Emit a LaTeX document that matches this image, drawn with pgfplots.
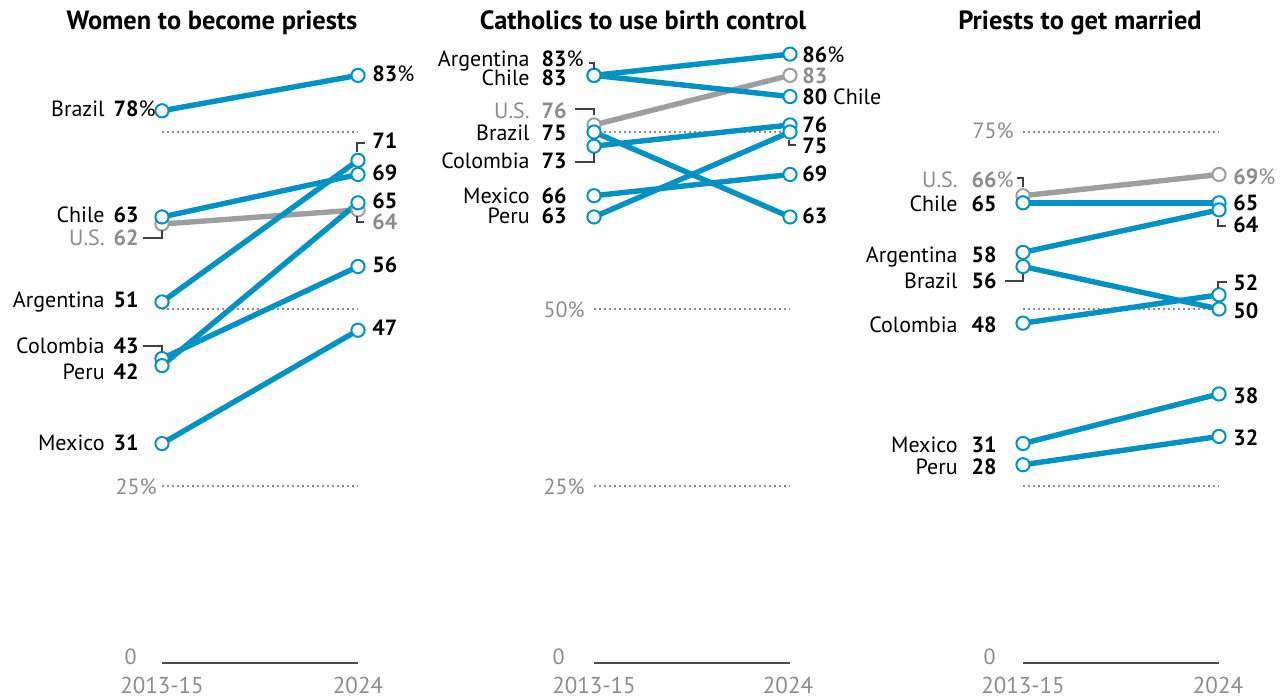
\documentclass[border=0pt]{standalone}
\usepackage{fontspec}
\setmainfont{PT Sans}
\usepackage{pgfplots}
\pgfplotsset{compat=1.18}
\definecolor{pblue}{RGB}{0,146,196}
\definecolor{pgray}{RGB}{158,158,160}
\definecolor{tgray}{RGB}{140,140,142}
\pgfplotsset{
 slope/.style={hide axis, clip=false, scale only axis, width=98pt, height=318.6pt,
   xmin=0,xmax=1,ymin=0,ymax=90, anchor=south west},
 ser/.style={color=#1, line width=2.7pt, mark=*, mark size=3.3pt,
   mark options={fill=white, draw=#1, line width=1pt, solid}},
 gridl/.style={tgray, line width=0.75pt, dash pattern=on 0.75pt off 1.75pt, forget plot},
 baseln/.style={black!70, line width=0.9pt, forget plot}
}
\tikzset{
 lab/.style={font=\fontsize{11pt}{12pt}\selectfont, inner sep=0pt},
 nm/.style={lab, anchor=base east},
 nr/.style={lab, anchor=base east, font=\fontsize{11pt}{12pt}\selectfont\bfseries},
 rt/.style={lab, anchor=base west},
 gl/.style={lab, anchor=base east, text=tgray},
 xl/.style={font=\fontsize{11.5pt}{12pt}\selectfont, inner sep=0pt, anchor=base, text=tgray},
 ttl/.style={font=\fontsize{13.2pt}{15pt}\selectfont\bfseries, inner sep=0pt, anchor=base},
 con/.style={black!75, line width=0.55pt}
}
\newcommand{\B}[1]{\textbf{#1}}
\begin{document}
\begin{tikzpicture}[x=0.5pt, y=0.5pt]
% ---------- Panel 1 ----------
\begin{axis}[slope, at={(81pt,18.5pt)}]
\addplot[gridl] coordinates {(0,25)(1,25)};
\addplot[gridl] coordinates {(0,50)(1,50)};
\addplot[gridl] coordinates {(0,75)(1,75)};
\addplot[baseln] coordinates {(0,0)(1,0)};
\addplot[ser=pgray] coordinates {(0,62)(1,64)};
\addplot[ser=pblue] coordinates {(0,78)(1,83)};
\addplot[ser=pblue] coordinates {(0,63)(1,69)};
\addplot[ser=pblue] coordinates {(0,51)(1,71)};
\addplot[ser=pblue] coordinates {(0,43)(1,56)};
\addplot[ser=pblue] coordinates {(0,42)(1,65)};
\addplot[ser=pblue] coordinates {(0,31)(1,47)};
\end{axis}
% ---------- Panel 2 ----------
\begin{axis}[slope, at={(297pt,18.5pt)}]
\addplot[gridl] coordinates {(0,25)(1,25)};
\addplot[gridl] coordinates {(0,50)(1,50)};
\addplot[gridl] coordinates {(0,75)(1,75)};
\addplot[baseln] coordinates {(0,0)(1,0)};
\addplot[ser=pgray] coordinates {(0,76)(1,83)};
\addplot[ser=pblue] coordinates {(0,83)(1,86)};
\addplot[ser=pblue] coordinates {(0,83)(1,80)};
\addplot[ser=pblue] coordinates {(0,75)(1,63)};
\addplot[ser=pblue] coordinates {(0,73)(1,76)};
\addplot[ser=pblue] coordinates {(0,66)(1,69)};
\addplot[ser=pblue] coordinates {(0,63)(1,75)};
\end{axis}
% ---------- Panel 3 ----------
\begin{axis}[slope, at={(511.5pt,18.5pt)}]
\addplot[gridl] coordinates {(0,25)(1,25)};
\addplot[gridl] coordinates {(0,50)(1,50)};
\addplot[gridl] coordinates {(0,75)(1,75)};
\addplot[baseln] coordinates {(0,0)(1,0)};
\addplot[ser=pgray] coordinates {(0,66)(1,69)};
\addplot[ser=pblue] coordinates {(0,65)(1,65)};
\addplot[ser=pblue] coordinates {(0,58)(1,64)};
\addplot[ser=pblue] coordinates {(0,56)(1,50)};
\addplot[ser=pblue] coordinates {(0,48)(1,52)};
\addplot[ser=pblue] coordinates {(0,31)(1,38)};
\addplot[ser=pblue] coordinates {(0,28)(1,32)};
\end{axis}
\begin{scope}[shift={(0pt,350pt)}, x=0.5pt, y=-0.5pt]
% ---------- Titles ----------
\node[ttl] at (212,30) {Women to become priests};
\node[ttl] at (643,30) {Catholics to use birth control};
\node[ttl] at (1080,30) {Priests to get married};
% ---------- x labels ----------
\foreach \a/\b in {162/358, 594/788, 1023/1218}{
  \node[xl] at (\a,694) {2013-15};
  \node[xl] at (\b,694) {2024};
}
% ---------- grid labels ----------
\node[gl] at (157,494.6) {25\%};
\node[gl] at (137,664.6) {0};
\node[gl] at (585,317.6) {50\%};
\node[gl] at (585,494.6) {25\%};
\node[gl] at (565,664.6) {0};
\node[gl] at (1014,138.6) {75\%};
\node[gl] at (996,664.6) {0};
% ---------- Panel 1 labels ----------
\node[nm] at (105,116.6) {Brazil};   \node[nr] at (139,116.6) {78\rlap{\mdseries\%}};
\node[nm] at (105,222.6) {Chile};    \node[nr] at (139,222.6) {63};
\node[nm,text=tgray] at (105,245.6) {U.S.}; \node[nr,text=tgray] at (139,245.6) {62};
\node[nm] at (105,307.6) {Argentina};\node[nr] at (139,307.6) {51};
\node[nm] at (105,353.6) {Colombia}; \node[nr] at (139,353.6) {43};
\node[nm] at (105,379.6) {Peru};     \node[nr] at (139,379.6) {42};
\node[nm] at (105,450.6) {Mexico};   \node[nr] at (139,450.6) {31};
\draw[con] (143,238)--(162,238)--(162,230);
\draw[con] (143,346)--(162,346)--(162,351);
\node[rt] at (372,81.6) {\B{83}\%};
\node[rt] at (372,148.6) {\B{71}};
\node[rt] at (372,180.6) {\B{69}};
\node[rt] at (372,208.6) {\B{65}};
\node[rt,text=tgray] at (372,229.6) {\B{64}};
\node[rt] at (372,272.6) {\B{56}};
\node[rt] at (372,335.6) {\B{47}};
\draw[con] (357,152)--(357,143)--(365,143);
\draw[con] (357,216)--(357,222)--(364,222);
% ---------- Panel 2 labels ----------
\node[nm] at (530,66.6) {Argentina}; \node[nr] at (567,66.6) {83\rlap{\mdseries\%}};
\node[nm] at (530,85.6) {Chile};     \node[nr] at (567,85.6) {83};
\node[nm,text=tgray] at (530,118.6) {U.S.}; \node[nr,text=tgray] at (567,118.6) {76};
\node[nm] at (530,140.6) {Brazil};   \node[nr] at (567,140.6) {75};
\node[nm] at (530,168.6) {Colombia}; \node[nr] at (567,168.6) {73};
\node[nm] at (530,203.6) {Mexico};   \node[nr] at (567,203.6) {66};
\node[nm] at (530,223.6) {Peru};     \node[nr] at (567,223.6) {63};
\draw[con] (589,63)--(594,63)--(594,69);
\draw[con] (575,109)--(594,109)--(594,115);
\draw[con] (575,162)--(594,162)--(594,153);
\node[rt] at (802,62.6) {\B{86}\%};
\node[rt,text=tgray] at (802,83.6) {\B{83}};
\node[rt] at (802,104.6) {\B{80} Chile};
\node[rt] at (802,132.6) {\B{76}};
\node[rt] at (802,153.6) {\B{75}};
\node[rt] at (802,181.6) {\B{69}};
\node[rt] at (802,223.6) {\B{63}};
\draw[con] (789,140)--(789,145)--(796,145);
% ---------- Panel 3 labels ----------
\node[nm,text=tgray] at (958,187.6) {U.S.}; \node[nr,text=tgray] at (997,187.6) {66\rlap{\mdseries\%}};
\node[nm] at (958,211.6) {Chile};     \node[nr] at (997,211.6) {65};
\node[nm] at (958,262.6) {Argentina}; \node[nr] at (997,262.6) {58};
\node[nm] at (958,288.6) {Brazil};    \node[nr] at (997,288.6) {56};
\node[nm] at (958,332.6) {Colombia};  \node[nr] at (997,332.6) {48};
\node[nm] at (958,452.6) {Mexico};    \node[nr] at (997,452.6) {31};
\node[nm] at (958,474.6) {Peru};      \node[nr] at (997,474.6) {28};
\draw[con] (1017,178)--(1023,178)--(1023,187);
\draw[con] (1005,281)--(1023,281)--(1023,274);
\node[rt,text=tgray] at (1233,184.6) {\B{69}\%};
\node[rt] at (1233,210.6) {\B{65}};
\node[rt] at (1233,232.6) {\B{64}};
\node[rt] at (1233,290.6) {\B{52}};
\node[rt] at (1233,318.6) {\B{50}};
\node[rt] at (1233,403.6) {\B{38}};
\node[rt] at (1233,445.6) {\B{32}};
\draw[con] (1218,219)--(1218,226)--(1226,226);
\draw[con] (1218,288)--(1218,282)--(1227,282);
\end{scope}
\pgfresetboundingbox
\useasboundingbox (0,0) rectangle (643pt,350pt);
\end{tikzpicture}
\end{document}
